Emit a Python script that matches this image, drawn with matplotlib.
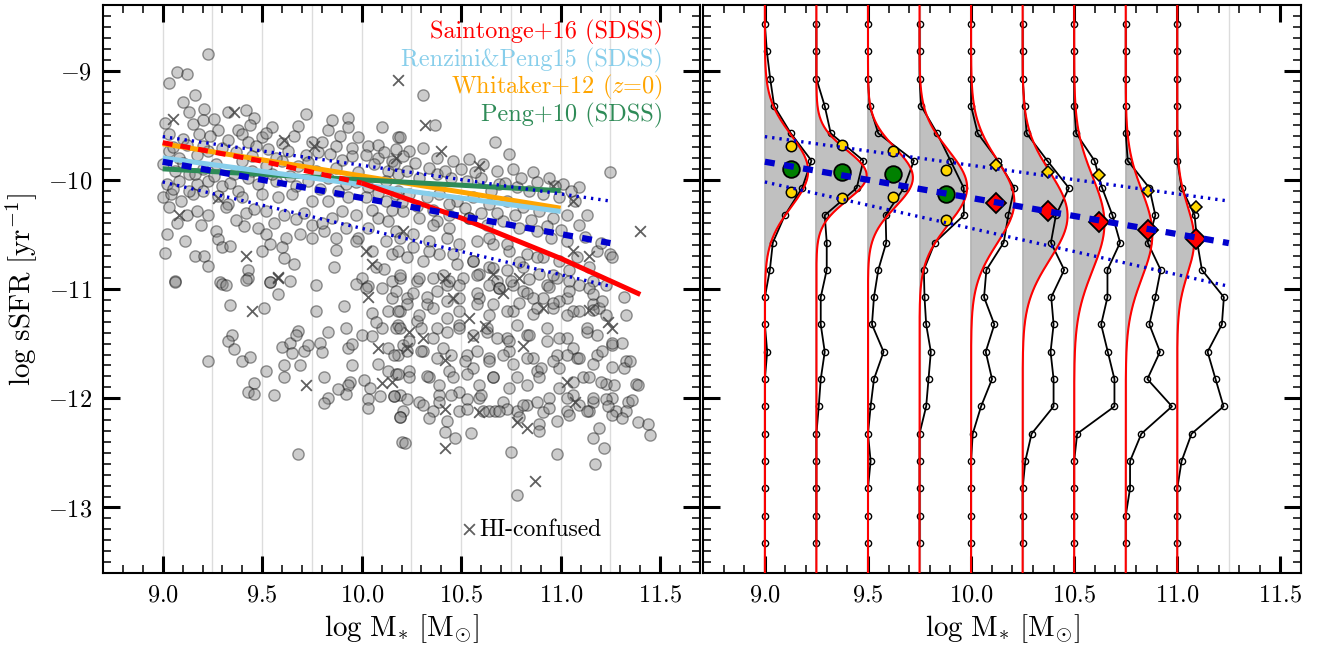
import numpy as np
import matplotlib
matplotlib.use("Agg")
import matplotlib.pyplot as plt
from matplotlib.ticker import MultipleLocator, FuncFormatter

plt.rcParams['font.family'] = 'serif'
plt.rcParams['font.serif'] = ['cmr10']
plt.rcParams['mathtext.fontset'] = 'cm'
plt.rcParams['axes.formatter.use_mathtext'] = True
plt.rcParams['axes.unicode_minus'] = False

# ---- left panel: galaxies (log M*, log sSFR) ----
gal_circles = [
    (9.23, -8.85), (9.07, -9.01), (9.12, -9.03), (9.03, -9.11), (9.10, -9.29), (9.16, -9.22),
    (9.21, -9.35), (9.13, -9.38), (9.33, -9.38), (9.42, -9.36), (9.01, -9.48), (9.15, -9.49),
    (9.20, -9.45), (9.28, -9.54), (9.38, -9.54), (9.46, -9.43), (9.44, -9.50), (9.55, -9.52),
    (9.68, -9.51), (9.72, -9.40), (9.83, -9.54), (9.89, -9.60), (9.93, -9.43), (9.93, -9.52),
    (9.98, -9.61), (10.10, -9.52), (10.18, -9.61), (9.03, -9.58), (9.10, -9.63), (9.18, -9.58),
    (9.24, -9.60), (9.40, -9.58), (9.43, -9.65), (9.50, -9.61), (9.60, -9.66), (9.75, -9.65),
    (9.87, -9.69), (9.95, -9.71), (10.03, -9.69), (10.08, -9.68), (10.17, -9.72), (9.03, -9.74),
    (9.08, -9.80), (9.17, -9.77), (9.23, -9.74), (9.30, -9.71), (9.37, -9.75), (9.45, -9.78),
    (9.53, -9.72), (9.63, -9.74), (9.72, -9.77), (9.78, -9.75), (9.95, -9.78), (10.02, -9.77),
    (10.08, -9.80), (10.15, -9.83), (9.00, -9.86), (9.06, -9.92), (9.13, -9.95), (9.20, -9.90),
    (9.27, -9.86), (9.36, -9.95), (9.45, -9.92), (9.52, -9.87), (9.60, -9.83), (9.68, -9.87),
    (9.77, -9.92), (9.87, -9.89), (9.98, -9.93), (10.13, -9.92), (10.18, -9.95), (9.02, -10.04),
    (9.08, -10.01), (9.17, -10.04), (9.23, -10.01), (9.30, -10.06), (9.38, -10.10), (9.48, -10.04),
    (9.57, -10.01), (9.67, -10.06), (9.73, -10.01), (9.83, -9.98), (9.92, -10.04), (10.03, -10.07),
    (10.12, -10.01), (9.00, -10.16), (9.04, -10.13), (9.09, -10.19), (9.15, -10.13), (9.20, -10.10),
    (9.28, -10.15), (9.33, -10.22), (9.40, -10.16), (9.50, -10.13), (9.58, -10.16), (9.65, -10.13),
    (9.75, -10.19), (9.83, -10.19), (9.93, -10.16), (10.02, -10.16), (10.12, -10.19), (10.17, -10.13),
    (9.03, -10.25), (9.12, -10.32), (9.17, -10.29), (9.23, -10.32), (9.32, -10.25), (9.42, -10.30),
    (9.52, -10.29), (9.61, -10.32), (9.67, -10.36), (9.75, -10.41), (9.85, -10.35), (9.90, -10.29),
    (9.97, -10.32), (10.08, -10.35), (10.13, -10.38), (9.02, -10.50), (9.11, -10.56), (9.27, -10.47),
    (9.28, -10.54), (9.41, -10.42), (9.48, -10.44), (9.52, -10.50), (9.54, -10.59), (9.62, -10.53),
    (9.69, -10.50), (9.75, -10.53), (9.81, -10.47), (9.87, -10.53), (9.98, -10.53), (10.03, -10.44),
    (10.12, -10.56), (10.17, -10.47), (9.01, -10.67), (9.16, -10.70), (9.21, -10.70), (9.23, -10.79),
    (9.30, -10.62), (9.34, -10.61), (9.43, -10.83), (9.50, -10.65), (9.60, -10.62), (9.61, -10.72),
    (9.66, -10.77), (9.87, -10.64), (9.86, -10.80), (9.97, -10.56), (10.05, -10.65), (10.07, -10.80),
    (10.11, -10.82), (10.15, -10.68), (10.18, -10.65), (9.06, -10.93), (9.29, -10.94), (9.43, -10.90),
    (9.54, -10.94), (9.64, -10.93), (9.77, -10.96), (10.00, -10.90), (10.03, -10.97), (10.15, -10.93),
    (9.05, -9.70), (9.12, -9.68), (9.20, -9.69), (9.33, -9.64), (9.47, -9.69), (9.57, -9.80),
    (9.66, -9.60), (9.80, -9.65), (9.90, -9.82), (10.06, -9.86), (9.05, -10.08), (9.13, -10.10),
    (9.26, -9.97), (9.34, -10.03), (9.43, -9.98), (9.55, -9.95), (9.64, -9.97), (9.79, -10.08),
    (9.88, -10.10), (9.97, -10.02), (10.08, -10.12), (9.07, -10.40), (9.19, -10.41), (9.37, -10.37),
    (9.46, -10.27), (9.56, -10.40), (9.71, -10.30), (9.80, -10.40), (9.92, -10.44), (10.05, -10.28),
    (10.15, -10.28), (9.10, -9.85), (9.16, -9.95), (9.40, -9.83), (9.73, -9.84), (9.84, -9.76),
    (10.11, -9.75), (9.26, -9.44), (9.52, -9.57), (9.85, -9.45),
    (10.31, -9.22), (10.37, -9.50), (10.67, -9.65), (10.74, -9.76), (11.25, -9.93), (10.19, -9.61),
    (10.24, -9.74), (10.31, -9.71), (10.38, -9.80), (10.46, -9.83), (10.54, -9.81), (10.61, -9.86),
    (10.68, -9.92), (10.76, -9.90), (10.86, -9.93), (10.94, -9.98), (11.01, -10.04), (11.09, -10.07),
    (10.16, -9.86), (10.23, -9.92), (10.29, -9.98), (10.38, -9.95), (10.45, -9.98), (10.53, -10.01),
    (10.60, -9.98), (10.69, -10.04), (10.78, -10.07), (10.84, -10.10), (10.91, -10.13), (10.99, -10.16),
    (11.07, -10.19), (11.13, -10.32), (11.03, -10.32), (10.18, -10.10), (10.24, -10.13), (10.33, -10.16),
    (10.39, -10.13), (10.48, -10.19), (10.56, -10.16), (10.64, -10.22), (10.73, -10.19), (10.81, -10.25),
    (10.89, -10.29), (10.96, -10.35), (11.09, -10.41), (10.21, -10.29), (10.29, -10.35), (10.38, -10.38),
    (10.44, -10.32), (10.54, -10.35), (10.63, -10.41), (10.71, -10.38), (10.79, -10.44), (10.88, -10.47),
    (10.95, -10.53), (11.03, -10.56), (11.18, -10.65), (11.25, -10.68), (11.26, -10.71), (10.19, -10.53),
    (10.26, -10.50), (10.34, -10.56), (10.43, -10.53), (10.49, -10.59), (10.58, -10.56), (10.66, -10.59),
    (10.74, -10.65), (10.83, -10.68), (10.91, -10.71), (10.99, -10.74), (11.08, -10.71), (11.14, -10.80),
    (10.23, -10.71), (10.31, -10.74), (10.39, -10.68), (10.48, -10.77), (10.56, -10.74), (10.64, -10.80),
    (10.73, -10.83), (10.81, -10.80), (10.89, -10.86), (10.98, -10.90), (11.04, -10.83), (10.19, -10.90),
    (10.28, -10.93), (10.36, -10.90), (10.43, -10.96), (10.51, -10.90), (10.59, -10.86), (10.68, -10.93),
    (10.76, -10.96), (10.84, -10.91), (10.93, -10.96), (11.16, -10.93), (11.23, -10.96),
    (10.21, -9.78), (10.27, -9.85), (10.34, -9.89), (10.42, -9.92), (10.50, -9.90), (10.57, -9.93),
    (10.65, -10.10), (10.72, -10.03), (10.80, -9.98), (10.88, -10.02), (10.97, -10.06), (11.05, -10.10),
    (10.20, -10.20), (10.28, -10.24), (10.36, -10.28), (10.44, -10.22), (10.52, -10.26), (10.60, -10.30),
    (10.68, -10.30), (10.77, -10.32), (10.85, -10.37), (10.93, -10.42), (11.00, -10.46), (11.12, -10.52),
    (11.20, -10.58),
    (10.36, -10.41), (10.44, -10.44), (10.54, -10.35), (10.64, -10.53), (10.73, -10.59), (10.26, -10.62),
    (10.34, -10.65), (10.46, -10.68), (10.56, -10.74), (10.66, -10.81), (10.79, -10.75), (10.88, -10.71),
    (10.96, -10.87), (11.04, -10.93), (11.14, -10.99), (10.19, -10.87), (10.29, -10.90), (10.41, -10.87),
    (10.49, -10.96), (10.58, -10.87), (10.69, -10.99), (10.81, -11.02), (10.91, -11.08), (11.03, -11.08),
    (11.16, -11.14), (10.23, -11.08), (10.33, -11.14), (10.43, -11.11), (10.59, -11.08), (10.66, -11.14),
    (10.76, -11.20), (10.86, -11.23), (10.96, -11.17), (11.06, -11.20), (11.19, -11.17), (10.18, -11.33),
    (10.28, -11.29), (10.38, -11.36), (10.49, -11.33), (10.63, -11.39), (10.73, -11.45), (10.83, -11.42),
    (10.93, -11.48), (11.03, -11.45), (11.13, -11.39), (11.26, -11.51), (10.21, -11.51), (10.31, -11.57),
    (10.41, -11.54), (10.53, -11.60), (10.64, -11.63), (10.74, -11.57), (10.86, -11.63), (10.98, -11.60),
    (11.08, -11.63), (11.18, -11.60), (11.33, -11.66), (10.24, -11.75), (10.34, -11.81), (10.44, -11.75),
    (10.56, -11.72), (10.66, -11.81), (10.78, -11.81), (10.88, -11.75), (10.99, -11.72), (11.11, -11.81),
    (11.23, -11.87), (11.38, -11.87), (10.19, -11.97), (10.29, -12.03), (10.39, -11.97), (10.49, -11.94),
    (10.59, -12.00), (10.71, -12.03), (10.83, -12.06), (10.94, -12.00), (11.06, -11.97), (11.16, -12.03),
    (11.26, -12.00), (11.34, -12.03), (10.21, -12.12), (10.36, -12.12), (10.49, -12.12), (10.64, -12.12),
    (10.78, -12.12), (10.91, -12.13), (11.03, -12.12), (11.14, -12.12), (11.28, -12.12),
    (9.06, -10.94), (9.30, -10.95), (9.32, -10.96), (9.42, -10.92), (9.54, -10.94), (9.58, -11.05),
    (9.34, -11.15), (9.51, -11.17), (9.77, -11.20), (9.91, -11.16), (9.97, -10.95), (10.02, -10.99),
    (10.10, -10.99), (10.15, -11.08), (10.05, -11.22), (10.13, -11.20), (10.17, -11.02), (9.35, -11.42),
    (9.33, -11.48), (9.36, -11.55), (9.23, -11.66), (9.40, -11.66), (9.44, -11.62), (9.52, -11.75),
    (9.46, -11.86), (9.43, -11.94), (9.46, -11.96), (9.56, -11.97), (9.61, -11.70), (9.61, -11.81),
    (9.60, -11.53), (9.64, -11.49), (9.65, -11.59), (9.68, -11.38), (9.67, -11.42), (9.71, -11.57),
    (9.73, -11.51), (9.69, -11.70), (9.79, -11.49), (9.80, -11.58), (9.83, -11.39), (9.81, -11.81),
    (9.92, -11.36), (9.93, -11.54), (9.95, -11.50), (9.95, -11.70), (9.94, -11.85), (9.93, -11.88),
    (9.92, -11.96), (9.88, -11.92), (9.83, -12.00), (9.81, -12.04), (10.01, -11.83), (10.04, -11.91),
    (10.03, -12.01), (10.03, -12.09), (10.09, -11.98), (10.16, -11.98), (10.19, -12.17), (10.20, -12.40),
    (9.68, -12.51), (10.00, -11.42), (10.05, -11.43), (10.08, -11.69), (10.13, -11.75), (10.17, -11.78),
    (10.13, -11.54), (10.18, -11.60), (10.10, -11.36), (10.17, -11.36), (10.19, -11.20), (10.07, -11.30),
    (10.26, -11.04), (10.33, -11.07), (10.38, -11.02), (10.44, -10.93), (10.49, -11.08), (10.58, -11.04),
    (10.64, -10.96), (10.69, -10.99), (10.75, -10.93), (10.83, -11.04), (10.86, -11.08), (10.94, -10.98),
    (10.99, -11.11), (11.04, -11.02), (11.09, -10.96), (11.16, -11.05), (11.21, -11.11), (11.32, -11.07),
    (10.18, -11.20), (10.23, -11.14), (10.29, -11.24), (10.36, -11.17), (10.43, -11.27), (10.49, -11.20),
    (10.58, -11.14), (10.64, -11.24), (10.73, -11.20), (10.79, -11.13), (10.88, -11.17), (10.96, -11.13),
    (11.03, -11.24), (11.09, -11.20), (11.16, -11.19), (11.23, -11.24), (11.33, -11.24), (10.19, -11.36),
    (10.24, -11.48), (10.30, -11.36), (10.36, -11.45), (10.43, -11.39), (10.49, -11.36), (10.56, -11.42),
    (10.63, -11.36), (10.68, -11.45), (10.74, -11.48), (10.78, -11.33), (10.84, -11.42), (10.93, -11.36),
    (10.99, -11.45), (11.06, -11.54), (11.13, -11.36), (11.18, -11.42), (11.26, -11.49), (11.31, -11.49),
    (10.16, -11.60), (10.23, -11.57), (10.30, -11.57), (10.38, -11.63), (10.45, -11.60), (10.52, -11.66),
    (10.58, -11.57), (10.64, -11.66), (10.71, -11.60), (10.76, -11.69), (10.83, -11.63), (10.90, -11.72),
    (10.96, -11.66), (11.03, -11.60), (11.09, -11.63), (11.16, -11.69), (11.21, -11.57), (11.26, -11.71),
    (11.32, -11.72), (11.35, -11.66), (10.18, -11.78), (10.24, -11.81), (10.33, -11.80), (10.39, -11.88),
    (10.46, -11.81), (10.53, -11.78), (10.59, -11.88), (10.66, -11.81), (10.74, -11.91), (10.83, -11.88),
    (10.89, -11.81), (10.99, -11.91), (11.06, -11.85), (11.14, -11.81), (11.20, -11.85), (11.27, -11.88),
    (11.39, -11.88), (10.16, -11.98), (10.23, -12.01), (10.31, -12.06), (10.39, -12.03), (10.45, -11.97),
    (10.53, -12.01), (10.60, -11.97), (10.67, -12.12), (10.73, -12.10), (10.81, -12.06), (10.88, -12.03),
    (10.94, -12.09), (11.03, -12.00), (11.09, -12.06), (11.16, -12.00), (11.23, -12.01), (11.36, -12.02),
    (10.19, -12.17), (10.34, -12.18), (10.43, -12.21), (10.53, -12.10), (10.61, -12.12), (10.69, -12.12),
    (10.79, -12.17), (10.89, -12.24), (10.98, -12.21), (11.04, -12.15), (11.13, -12.12), (11.19, -12.27),
    (11.26, -12.15), (11.33, -12.12), (11.39, -12.22), (11.44, -12.24), (11.45, -12.34), (10.22, -12.41),
    (10.42, -12.31), (10.47, -12.36), (10.55, -12.32), (10.75, -12.49), (10.89, -12.30), (10.98, -12.51),
    (11.17, -12.60), (11.22, -12.46), (11.16, -12.36), (10.78, -12.89), (11.31, -12.18), (11.24, -12.07),
]

# HI-confused galaxies (crosses)
conf_points = [
    (9.05, -9.44), (9.36, -9.38), (9.28, -10.17), (9.08, -10.32), (9.42, -10.70), (9.58, -10.89),
    (9.61, -9.64), (9.76, -9.69), (10.18, -9.09), (10.02, -10.65), (10.05, -10.77), (10.17, -9.80),
    (10.32, -9.50), (10.40, -9.74), (10.59, -9.87), (10.96, -10.06), (11.06, -10.19),
    (11.40, -10.47), (11.06, -10.65), (11.14, -10.70), (10.21, -10.47), (10.66, -10.86), (10.79, -10.90),
    (10.42, -10.90), (9.45, -11.20), (9.72, -11.88), (9.58, -10.90), (10.03, -11.07), (10.08, -11.54),
    (10.10, -11.86), (10.15, -11.85), (10.42, -12.46), (10.87, -12.76), (10.78, -12.22), (10.83, -12.27),
    (10.59, -12.13), (10.42, -12.10), (10.24, -11.39), (10.23, -11.54), (10.42, -11.65), (10.56, -11.44),
    (10.62, -11.34), (10.54, -11.27), (10.46, -11.08), (10.81, -11.52), (11.03, -11.85), (11.07, -12.03),
    (11.24, -11.30), (11.26, -11.36), (11.14, -11.19), (10.71, -11.04), (10.91, -11.17), (10.31, -11.45),
]

# literature main-sequence relations
saint_mass = [9.0, 9.5, 10.0, 10.5, 11.0, 11.4]
saint_ssfr = [-9.66, -9.83, -10.03, -10.35, -10.72, -11.05]
renz_mass = [9.0, 11.0]
renz_ssfr = [-9.80, -10.29]
whit_mass = [9.0, 11.0]
whit_ssfr = [-9.67, -10.26]
peng_mass = [9.0, 11.0]
peng_ssfr = [-9.90, -10.10]

# this work: fit and scatter lines
fit_mass = [9.0, 11.25]
fit_ssfr = [-9.835, -10.58]
fit_upper = [-9.605, -10.195]
fit_lower = [-10.02, -10.975]

# ---- right panel: sSFR histograms in stellar-mass bins ----
bin_edges = [9.0, 9.25, 9.5, 9.75, 10.0, 10.25, 10.5, 10.75, 11.0]
hist_ssfr = [-8.575, -8.825, -9.075, -9.325, -9.575, -9.825, -10.075, -10.325, -10.575, -10.825,
             -11.075, -11.325, -11.575, -11.825, -12.075, -12.325, -12.575, -12.825, -13.075, -13.325]
hist_counts = [
    [0, 6, 16, 28, 78, 140, 112, 60, 24, 15, 0, 0, 7, 0, 0, 0, 0, 0, 0, 0],
    [0, 0, 0, 25, 43, 141, 121, 25, 31, 31, 13, 13, 25, 13, 7, 0, 0, 0, 0, 0],
    [0, 0, 0, 5, 31, 138, 108, 53, 55, 31, 18, 12, 47, 18, 8, 0, 8, 0, 0, 0],
    [0, 0, 0, 5, 53, 93, 133, 133, 46, 13, 15, 20, 34, 27, 20, 0, 0, 0, 0, 0],
    [0, 0, 0, 0, 20, 81, 130, 112, 98, 46, 39, 70, 44, 63, 30, 5, 0, 0, 0, 0],
    [0, 0, 0, 6, 12, 74, 139, 100, 85, 125, 86, 93, 84, 93, 93, 27, 8, 0, 0, 0],
    [0, 0, 0, 0, 6, 61, 84, 115, 138, 100, 100, 81, 101, 121, 121, 9, 0, 0, 0, 0],
    [0, 0, 0, 0, 0, 6, 71, 89, 66, 105, 89, 71, 103, 65, 139, 47, 13, 13, 0, 0],
    [0, 0, 0, 0, 0, 0, 13, 52, 60, 74, 140, 134, 91, 115, 139, 43, 13, 0, 0, 0],
]
# gaussian fits (same count units)
gauss_amp = [130, 151, 135, 143, 130, 135, 91, 80, 51]
gauss_mu = [-9.92, -9.96, -9.98, -10.07, -10.20, -10.33, -10.40, -10.50, -10.55]
gauss_sig = [0.33, 0.23, 0.27, 0.34, 0.38, 0.40, 0.43, 0.40, 0.31]
hist_scale = 0.226 / 140.0  # dex of x-offset per count unit

# per-bin MS estimates
circ_mass = [9.126, 9.376, 9.621, 9.879]
circ_ssfr = [-9.90, -9.93, -9.945, -10.13]
circ_hi = [-9.69, -9.68, -9.74, -9.91]
circ_lo = [-10.11, -10.165, -10.16, -10.37]
diam_mass = [10.121, 10.372, 10.622, 10.859, 11.093]
diam_ssfr = [-10.21, -10.29, -10.385, -10.46, -10.54]
diam_hi = [-9.865, -9.93, -9.957, -10.10, -10.25]

grid_mass = [9.0, 9.25, 9.5, 9.75, 10.0, 10.25, 10.5, 10.75, 11.0, 11.25]

BLUE = '#0000CD'

fig = plt.figure(figsize=(13.2, 6.51), dpi=100)
ax1 = fig.add_axes([103 / 1320, 78 / 651, 597 / 1320, 568 / 651])
ax2 = fig.add_axes([703 / 1320, 78 / 651, 598 / 1320, 568 / 651])


def style(ax, xmax, ylabels=True):
    ax.set_xlim(8.7, xmax)
    ax.set_ylim(-13.6, -8.4)
    ax.xaxis.set_major_locator(MultipleLocator(0.5))
    ax.xaxis.set_minor_locator(MultipleLocator(0.1))
    ax.yaxis.set_major_locator(MultipleLocator(1))
    ax.yaxis.set_minor_locator(MultipleLocator(0.1))
    ax.xaxis.set_major_formatter(FuncFormatter(lambda v, p: r'$%.1f$' % v))
    ax.yaxis.set_major_formatter(FuncFormatter(lambda v, p: r'$%d$' % round(v)))
    ax.tick_params(which='both', direction='in', top=True, right=True)
    ax.tick_params(which='major', length=12, width=2.2, labelsize=17.5, pad=8)
    ax.tick_params(which='minor', length=6, width=1.1)
    if not ylabels:
        ax.tick_params(labelleft=False)
    for s in ax.spines.values():
        s.set_linewidth(1.5)
    for m in grid_mass:
        ax.axvline(m, color='#dcdcdc', lw=1, zorder=0)
    ax.set_xlabel(r'$\log\,\mathrm{M}_{*}\ [\mathrm{M}_{\odot}]$', fontsize=21, labelpad=4)


style(ax1, 11.7)
style(ax2, 11.6, ylabels=False)
ax1.set_ylabel(r'$\log\,\mathrm{sSFR}\ [\mathrm{yr}^{-1}]$', fontsize=21, labelpad=6)

# left panel
gm = [p[0] for p in gal_circles]
gs = [p[1] for p in gal_circles]
ax1.scatter(gm, gs, s=66, facecolor='gray', edgecolor='k', lw=1, alpha=0.4, zorder=1)
cm_ = [p[0] for p in conf_points]
cs_ = [p[1] for p in conf_points]
ax1.scatter(cm_, cs_, s=60, marker='x', color='#444444', lw=1.3, alpha=0.85, zorder=2,
            label='HI-confused')

ax1.plot(whit_mass, whit_ssfr, color='orange', lw=3.6, zorder=3, solid_capstyle='butt')
ax1.plot(peng_mass, peng_ssfr, color='seagreen', lw=3.6, zorder=3, solid_capstyle='butt')
ax1.plot(renz_mass, renz_ssfr, color='skyblue', lw=3.6, zorder=3, solid_capstyle='butt')
ax1.plot(saint_mass[:3], saint_ssfr[:3], color='red', lw=3.6, ls=(0, (2.0, 1.6)), zorder=3)
ax1.plot(saint_mass[2:], saint_ssfr[2:], color='red', lw=3.6, zorder=3, solid_capstyle='butt')

for ax in (ax1, ax2):
    ax.plot(fit_mass, fit_ssfr, color=BLUE, lw=4.5, ls=(0, (1.6, 1.5)), zorder=6)
    ax.plot(fit_mass, fit_upper, color=BLUE, lw=2.4, ls=(0, (0.7, 1.5)), zorder=6)
    ax.plot(fit_mass, fit_lower, color=BLUE, lw=2.4, ls=(0, (0.7, 1.5)), zorder=6)

labels = [('Saintonge+16 (SDSS)', 'red'), ('Renzini&Peng15 (SDSS)', 'skyblue'),
          (r'Whitaker+12 ($z$=0)', 'orange'), ('Peng+10 (SDSS)', 'seagreen')]
for i, (t, c) in enumerate(labels):
    ax1.text(0.938, 0.951 - i * 0.0485, t, color=c, fontsize=17.5, ha='right', va='center',
             transform=ax1.transAxes)

ax1.legend(loc='lower right', bbox_to_anchor=(0.835, 0.057), frameon=False, fontsize=17,
           handletextpad=0.05, handlelength=0.8, borderpad=0, borderaxespad=0)

# right panel
yy = np.linspace(-13.6, -8.4, 500)
for i, e in enumerate(bin_edges):
    g = gauss_amp[i] * np.exp(-0.5 * ((yy - gauss_mu[i]) / gauss_sig[i]) ** 2) * hist_scale
    ax2.fill_betweenx(yy, e, e + g, color='silver', lw=0, zorder=1)
    ax2.axvline(e, color='#b0b0b0', lw=1.2, zorder=1.5)
    hx = e + np.array(hist_counts[i]) * hist_scale
    ax2.plot(hx, hist_ssfr, '-o', color='k', lw=1.3, ms=4.5, mfc='none', mew=1.0, zorder=3)
    ax2.plot(e + g, yy, color='red', lw=1.5, zorder=4)

ax2.plot(circ_mass, circ_ssfr, 'o', ms=12, mfc='green', mec='k', mew=1.3, zorder=5, ls='none')
ax2.plot(circ_mass, circ_hi, 'o', ms=7.5, mfc='gold', mec='k', mew=1.1, zorder=5, ls='none')
ax2.plot(circ_mass, circ_lo, 'o', ms=7.5, mfc='gold', mec='k', mew=1.1, zorder=5, ls='none')
ax2.plot(diam_mass, diam_ssfr, 'D', ms=10.5, mfc='red', mec='k', mew=1.3, zorder=5, ls='none')
ax2.plot(diam_mass, diam_hi, 'D', ms=6.5, mfc='gold', mec='k', mew=1.1, zorder=5, ls='none')

fig.savefig('out.png', dpi=100)
